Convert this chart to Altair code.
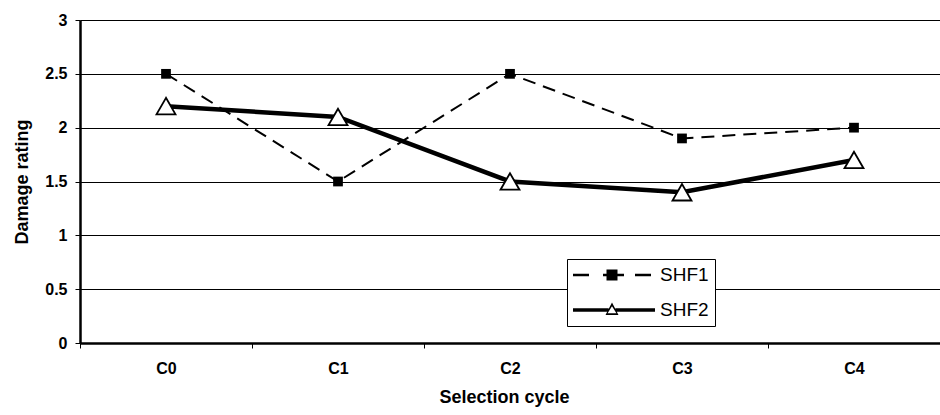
import altair as alt
import pandas as pd

cycles = ["C0", "C1", "C2", "C3", "C4"]
series_names = ["SHF1", "SHF2"]
shf1 = [2.5, 1.5, 2.5, 1.9, 2.0]
shf2 = [2.2, 2.1, 1.5, 1.4, 1.7]
y_ticks = [0, 0.5, 1, 1.5, 2, 2.5, 3]

rows = []
for name, vals in zip(series_names, [shf1, shf2]):
    for c, v in zip(cycles, vals):
        rows.append({"cycle": c, "rating": v, "series": name})
df = pd.DataFrame(rows)

FONT = "Arial, Liberation Sans, sans-serif"

# legend symbols (line + marker) as custom paths
p_shf1 = ("M-1,-0.12H0.6V0.12H-1Z M2,-0.12H2.6V0.12H2Z M2.35,-0.55H3.45V0.55H2.35Z "
          "M3.45,-0.12H4.1V0.12H3.45Z M5.2,-0.12H6.8V0.12H5.2Z")
p_shf2 = ("M-1,-0.18H2.56V0.18H-1Z M3.24,-0.18H7.2V0.18H3.24Z "
          "M2.9,-0.75L3.55,0.5L2.25,0.5Z M2.9,-0.38L2.46,0.32L3.34,0.32Z")

x_enc = alt.X(
    "cycle:N",
    sort=cycles,
    scale=alt.Scale(type="band", domain=cycles, paddingInner=0, paddingOuter=0),
    axis=alt.Axis(
        title="Selection cycle", labelAngle=0, tickBand="extent", ticks=True,
        tickSize=5, tickColor="black", tickWidth=1, domainColor="black", domainWidth=2.5,
        labelFont=FONT, labelFontSize=16, labelFontWeight="bold", labelColor="black",
        labelPadding=12, titleFont=FONT, titleFontSize=18, titleFontWeight="bold",
        titleColor="black", titlePadding=12, titleX=424, grid=False,
    ),
)
y_enc = alt.Y(
    "rating:Q",
    scale=alt.Scale(domain=[0, 3], nice=False, zero=True),
    axis=alt.Axis(
        title="Damage rating", values=y_ticks, format="~g", tickSize=5,
        tickColor="black", domainColor="black", domainWidth=2.5,
        labelFont=FONT, labelFontSize=16, labelFontWeight="bold", labelColor="black",
        labelPadding=8, titleFont=FONT, titleFontSize=18, titleFontWeight="bold",
        titleColor="black", titlePadding=13, grid=True, gridColor="black", gridWidth=1,
    ),
)

base = alt.Chart(df).encode(x=x_enc, y=y_enc)

line1 = base.transform_filter(alt.datum.series == "SHF1").mark_line(
    color="black", strokeWidth=2, strokeDash=[13, 8])
line2 = base.transform_filter(alt.datum.series == "SHF2").mark_line(
    color="black", strokeWidth=4.5)
pts1 = base.transform_filter(alt.datum.series == "SHF1").mark_point(
    shape="square", size=95, filled=True, color="black", opacity=1)
pts2 = base.transform_filter(alt.datum.series == "SHF2").mark_point(
    shape="triangle-up", size=360, filled=True, fill="white", stroke="black",
    strokeWidth=1.8, opacity=1)

legend_layer = base.mark_point(filled=True, color="black", opacity=0).encode(
    shape=alt.Shape(
        "series:N",
        scale=alt.Scale(domain=series_names, range=[p_shf1, p_shf2]),
        legend=alt.Legend(
            title=None, orient="none", legendX=487, legendY=239,
            symbolSize=400, symbolOpacity=1, symbolStrokeWidth=0,
            symbolFillColor="black", labelFont=FONT, labelFontSize=19,
            labelColor="black", labelOffset=67, rowPadding=15, padding=6,
            strokeColor="black", fillColor="white",
            labelExpr="datum.label + '\u00a0'",
        ),
    )
)

chart = alt.layer(line1, line2, pts1, pts2, legend_layer).properties(
    width=860, height=323,
    autosize=alt.AutoSizeParams(type="none"),
    padding={"left": 80, "top": 20, "right": 0, "bottom": 72},
).configure_view(stroke="black", strokeWidth=2).configure(background="white")

chart.save("out.html", embed_options={"renderer": "svg", "actions": False})
